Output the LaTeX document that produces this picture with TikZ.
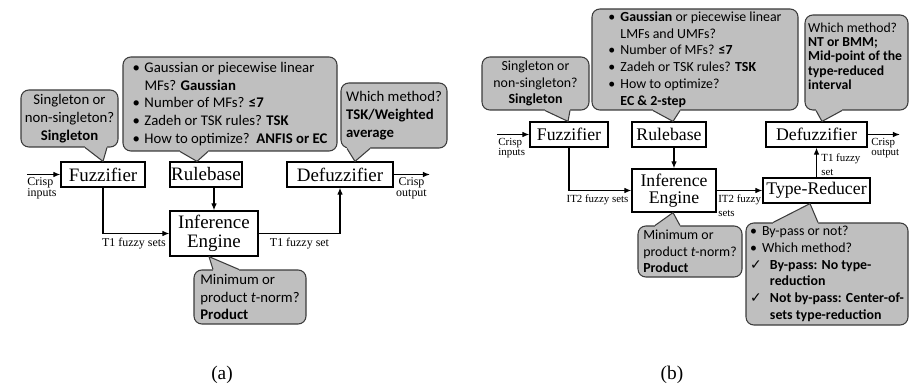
\documentclass[tikz,border=0pt]{standalone}
\usepackage{fontspec}
\setmainfont{Liberation Serif}
\newfontfamily\calfont{Carlito}
\newfontfamily\chkfont{DejaVu Sans}
\usetikzlibrary{arrows.meta,calc,positioning}

\definecolor{bubblegray}{RGB}{191,191,191}
\definecolor{bubbleedge}{RGB}{60,60,60}
\newcommand{\pxu}{0.02cm}
\newcommand{\bul}{\makebox[6.8pt][l]{•}}
\newcommand{\ind}{\hspace*{6.8pt}}
\newcommand{\chk}{\makebox[11.3pt][l]{\chkfont ✓}}
\newcommand{\chkind}{\hspace*{11.3pt}}
% tail of a question bubble: base x1..x2 on an anchor, tip, inward shift
\newcommand{\tail}[5]{%
  \fill[bubblegray] (#2,0 |- #1) -- ++(0,#5) -| (#3,0 |- #1) -- (#4) -- cycle;
  \draw[bubbleedge,line width=0.6pt,line join=round] (#2,0 |- #1) -- (#4) -- (#3,0 |- #1);}

\begin{document}
\begin{tikzpicture}[x=0.02cm,y=-0.02cm,
    blk/.style={draw,line width=0.7pt,inner sep=0pt,align=center,font=\rmfamily\fontsize{10.8}{10.8}\selectfont},
    blkb/.style={blk,font=\rmfamily\fontsize{10.1}{10}\selectfont},
    lbl/.style={inner sep=0pt,font=\rmfamily\fontsize{6.8}{6.4}\selectfont},
    lblb/.style={inner sep=0pt,font=\rmfamily\fontsize{6.2}{5.8}\selectfont},
    bubble/.style={draw=bubbleedge,fill=bubblegray,line width=0.6pt,rounded corners=4.5pt,inner sep=0pt,font=\calfont\fontsize{8.4}{10.2}\selectfont},
    bubbleb/.style={bubble,font=\calfont\fontsize{7.9}{9.5}\selectfont},
    arr/.style={line width=0.7pt,-{Latex[length=4pt,width=3.2pt]}}]
  \useasboundingbox (0,0) rectangle (909,388);

  % (a)
  \coordinate (inA) at (27,174.5);
  \coordinate (outA) at (430,174.5);
  \node[blk,minimum width=84*\pxu,minimum height=25*\pxu] (fuzA) at (103,174.5) {Fuzzifier};
  \node[blk,minimum width=72*\pxu,minimum height=25*\pxu] (ruleA) at (206,174.5) {Rulebase};
  \node[blk,minimum width=106*\pxu,minimum height=25*\pxu] (defA) at (340,174.5) {Defuzzifier};
  \node[blk,minimum width=88*\pxu,minimum height=45*\pxu] (infA) at (214,233.5) {Inference\\Engine};

  \draw[arr] (inA) -- (fuzA);
  \draw[arr] (fuzA.south) |- (infA.west);
  \draw[arr] (infA.north |- ruleA.south) -- (infA.north);
  \draw[arr] (infA.east) -| (defA.south);
  \draw[arr] (defA) -- (outA);

  \node[lbl,align=left,anchor=west] (ciA) at (27,188.5) {Crisp\\inputs};
  \node[lbl,align=center] (coA) at (411.5,188.5) {Crisp\\output};
  \node[lbl] (t1sA) at (134,244) {T1 fuzzy sets};
  \node[lbl] (t1A) at (299.5,244) {T1 fuzzy set};

  \node[bubble,align=center,minimum width=97*\pxu,minimum height=57*\pxu] (qFuzA) at (69.5,118.5)
    {Singleton or\\non-singleton?\\\textbf{Singleton}};
  \tail{qFuzA.south}{85}{107}{103,0 |- fuzA.north}{-2}
  \node[bubble,align=left,minimum width=214*\pxu,minimum height=94*\pxu] (qRuleA) at (230,104)
    {\bul Gaussian or piecewise linear\\
     \ind MFs? \textbf{Gaussian}\\
     \bul Number of MFs? \textbf{≤7}\\
     \bul Zadeh or TSK rules? \textbf{TSK}\\
     \bul How to optimize?\ \ \textbf{ANFIS or EC}};
  \tail{qRuleA.south}{180}{208}{197,0 |- ruleA.north}{-2}
  \node[bubble,align=left,minimum width=106*\pxu,minimum height=65*\pxu] (qDefA) at (394,115.5)
    {Which method?\\\textbf{TSK/Weighted}\\\textbf{average}};
  \tail{qDefA.south}{347}{370}{355,0 |- defA.north}{-2}
  \node[bubble,align=left,minimum width=112*\pxu,minimum height=54*\pxu] (qInfA) at (250,297)
    {Minimum or\\product \textit{t}-norm?\\\textbf{Product}};
  \tail{qInfA.north}{213}{239}{209,0 |- infA.south}{2}

  \node[font=\rmfamily\fontsize{11}{11}\selectfont] (capA) at (222,375) {(a)};

  % (b)
  \coordinate (inB) at (497,134.5);
  \coordinate (outB) at (900,134.5);
  \node[blkb,minimum width=78*\pxu,minimum height=25*\pxu] (fuzB) at (569,134.5) {Fuzzifier};
  \node[blkb,minimum width=74*\pxu,minimum height=25*\pxu] (ruleB) at (669,134.5) {Rulebase};
  \node[blkb,minimum width=101*\pxu,minimum height=25*\pxu] (defB) at (816.5,134.5) {Defuzzifier};
  \node[blkb,minimum width=84*\pxu,minimum height=43*\pxu] (infB) at (674,190.5) {Inference\\Engine};
  \node[blkb,minimum width=107*\pxu,minimum height=25*\pxu] (trB) at (816.5,190.5) {Type-Reducer};

  \draw[arr] (inB) -- (fuzB);
  \draw[arr] (fuzB.south) |- (infB.west);
  \draw[arr] (infB.north |- ruleB.south) -- (infB.north);
  \draw[arr] (infB.east) -- (trB.west);
  \draw[arr] (trB.north) -- (defB.south);
  \draw[arr] (defB) -- (outB);

  \node[lblb,align=left,anchor=west] (ciB) at (498,148) {Crisp\\inputs};
  \node[lblb,align=left,anchor=west] (coB) at (871,148) {Crisp\\output};
  \node[lblb] (it2sB) at (597.5,200) {IT2 fuzzy sets};
  \node[lblb,align=left,anchor=west,font=\rmfamily\fontsize{6.2}{7.9}\selectfont] (it2B) at (718,206) {IT2 fuzzy\\sets};
  \node[lblb,align=left,anchor=west,font=\rmfamily\fontsize{6.2}{7.9}\selectfont] (t1B) at (821,165) {T1 fuzzy\\set};

  \node[bubbleb,align=center,minimum width=107*\pxu,minimum height=53*\pxu] (qFuzB) at (535.5,83.5)
    {Singleton or\\non-singleton?\\\textbf{Singleton}};
  \tail{qFuzB.south}{545}{570}{568,0 |- fuzB.north}{-2}
  \node[bubbleb,align=left,minimum width=206*\pxu,minimum height=101*\pxu] (qRuleB) at (695,59.5)
    {\bul\textbf{Gaussian} or piecewise linear\\
     \ind LMFs and UMFs?\\
     \bul Number of MFs? \textbf{≤7}\\
     \bul Zadeh or TSK rules? \textbf{TSK}\\
     \bul How to optimize?\\
     \ind\textbf{EC \& 2-step}};
  \tail{qRuleB.south}{653}{680}{673,0 |- ruleB.north}{-2}
  \node[bubbleb,font=\calfont\fontsize{7.8}{8.1}\selectfont,minimum width=103*\pxu,minimum height=95*\pxu] (qDefB) at (856.5,62.5)
    {\parbox[c][45pt][t]{55pt}{\raggedright Which method?\\\textbf{NT or BMM;}\\\textbf{Mid-point of the}\\\textbf{type-reduced}\\\textbf{interval}}};
  \tail{qDefB.south}{816}{842}{822,0 |- defB.north}{-2}
  \node[bubbleb,align=left,minimum width=104*\pxu,minimum height=51*\pxu] (qInfB) at (690,251.5)
    {Minimum or\\product \textit{t}-norm?\\\textbf{Product}};
  \tail{qInfB.north}{655}{680}{673,0 |- infB.south}{2}
  \node[bubbleb,align=left,minimum width=162*\pxu,minimum height=102*\pxu] (qTrB) at (827,274)
    {\bul By-pass or not?\\
     \bul Which method?\\
     \chk\textbf{By-pass: No type-}\\
     \chkind\textbf{reduction}\\
     \chk\textbf{Not by-pass: Center-of-}\\
     \chkind\textbf{sets type-reduction}};
  \tail{qTrB.north}{773}{818}{810,0 |- trB.south}{2}

  \node[font=\rmfamily\fontsize{11}{11}\selectfont] (capB) at (672,375) {(b)};
\end{tikzpicture}
\end{document}
